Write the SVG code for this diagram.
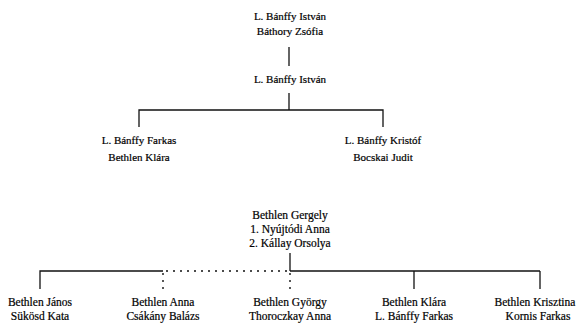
<svg xmlns="http://www.w3.org/2000/svg" width="577" height="326" viewBox="0 0 577 326">
<style>
text{font-family:"Liberation Serif","Times New Roman",serif;font-size:11px;fill:#000;stroke:#000;stroke-width:0.2;text-anchor:middle}
.b text{font-size:11.5px}
.s{stroke:#111;stroke-width:1.3;fill:none}
.d{stroke:#111;stroke-width:1.4;fill:none;stroke-dasharray:2 5}
</style>
<rect width="577" height="326" fill="#fff"/>
<g id="connectors">
<line class="s" x1="289" y1="47" x2="289" y2="66"/>
<line class="s" x1="289" y1="93" x2="289" y2="110"/>
<polyline class="s" points="139,127 139,110 383,110 383,127"/>
<line class="s" x1="290" y1="253" x2="290" y2="271"/>
<polyline class="s" points="40,289 40,271 163,271"/>
<line class="d" x1="166" y1="271" x2="290" y2="271"/>
<line class="s" x1="290" y1="271" x2="540" y2="271"/>
<line class="d" x1="163" y1="273" x2="163" y2="289"/>
<line class="d" x1="290" y1="273" x2="290" y2="289"/>
<line class="s" x1="414" y1="271" x2="414" y2="289"/>
<line class="s" x1="540" y1="271" x2="540" y2="289"/>
</g>
<g id="n1"><text x="290" y="20">L. Bánffy István</text><text x="290" y="35">Báthory Zsófia</text></g>
<g id="n2"><text x="290" y="83">L. Bánffy István</text></g>
<g id="n3"><text x="139" y="144">L. Bánffy Farkas</text><text x="139" y="161">Bethlen Klára</text></g>
<g id="n4"><text x="383" y="144">L. Bánffy Kristóf</text><text x="383" y="161">Bocskai Judit</text></g>
<g class="b">
<g id="n5"><text x="290" y="219">Bethlen Gergely</text><text x="290" y="233">1. Nyújtódi Anna</text><text x="290" y="247">2. Kállay Orsolya</text></g>
<g id="n6"><text x="40" y="306">Bethlen János</text><text x="40" y="320">Sükösd Kata</text></g>
<g id="n7"><text x="163" y="306">Bethlen Anna</text><text x="163" y="320">Csákány Balázs</text></g>
<g id="n8"><text x="290" y="306">Bethlen György</text><text x="290" y="320">Thoroczkay Anna</text></g>
<g id="n9"><text x="414" y="306">Bethlen Klára</text><text x="414" y="320">L. Bánffy Farkas</text></g>
<g id="n10"><text x="535" y="306">Bethlen Krisztina</text><text x="538" y="320">Kornis Farkas</text></g>
</g>
</svg>
